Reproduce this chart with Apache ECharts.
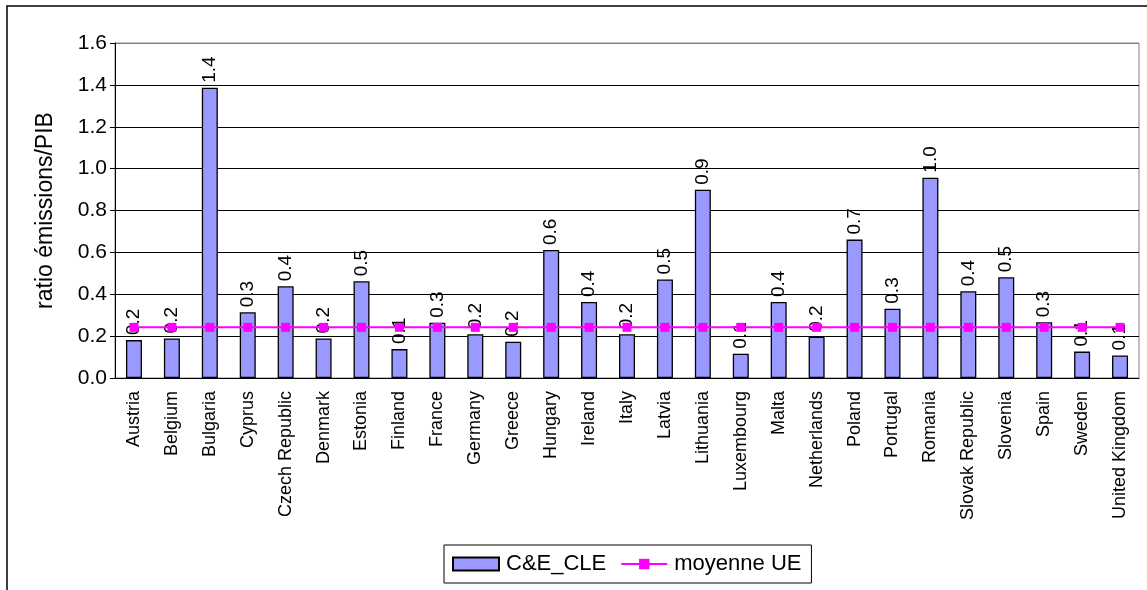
<!DOCTYPE html>
<html>
<head>
<meta charset="utf-8">
<script src="https://cdn.jsdelivr.net/npm/echarts@6/dist/echarts.min.js"></script>
<style>
  html, body { margin: 0; padding: 0; background: #fff; }
  #chart { width: 1147px; height: 590px; }
</style>
</head>
<body>
<div id="chart"></div>
<script>
// pays (axe x)
var countries = ['Austria', 'Belgium', 'Bulgaria', 'Cyprus', 'Czech Republic', 'Denmark',
    'Estonia', 'Finland', 'France', 'Germany', 'Greece', 'Hungary', 'Ireland', 'Italy',
    'Latvia', 'Lithuania', 'Luxembourg', 'Malta', 'Netherlands', 'Poland', 'Portugal',
    'Romania', 'Slovak Republic', 'Slovenia', 'Spain', 'Sweden', 'United Kingdom'];

// ratio émissions/PIB par pays
var cleValues = [0.181, 0.189, 1.386, 0.314, 0.438, 0.189, 0.462, 0.138, 0.264, 0.209,
    0.173, 0.611, 0.363, 0.209, 0.471, 0.899, 0.116, 0.363, 0.197, 0.661, 0.331,
    0.957, 0.414, 0.481, 0.266, 0.126, 0.108];

// moyenne UE (constante)
var avgValue = 0.242;
var avgValues = countries.map(function () { return avgValue; });

var yTicks = { min: 0, max: 1.6, interval: 0.2 };

var font = 'Liberation Sans, Arial, sans-serif';
var chart = echarts.init(document.getElementById('chart'));

var option = {
    animation: false,
    backgroundColor: '#fff',
    textStyle: { fontFamily: font },
    graphic: [{
        type: 'rect',
        shape: { x: 7, y: 6, width: 1180, height: 640 },
        style: { fill: 'none', stroke: '#000', lineWidth: 1.5 },
        silent: true
    }],
    grid: {
        left: 115, right: 8, top: 43, bottom: 212,
        show: true, borderColor: '#808080', borderWidth: 1,
        backgroundColor: '#fff'
    },
    legend: {
        left: 444, top: 545,
        padding: [8, 10, 8, 8],
        itemGap: 14,
        itemWidth: 46, itemHeight: 13,
        borderColor: '#000', borderWidth: 1,
        textStyle: { fontSize: 22, color: '#000', fontFamily: font, padding: [0, 0, 0, 2] },
        data: [{ name: 'C&E_CLE', icon: 'rect' }, { name: 'moyenne UE' }]
    },
    xAxis: {
        type: 'category',
        data: countries,
        axisLine: { lineStyle: { color: '#000', width: 1 } },
        axisTick: { length: 5, lineStyle: { color: '#000' } },
        axisLabel: { rotate: 90, fontSize: 18, color: '#000', margin: 13, interval: 0 }
    },
    yAxis: {
        type: 'value',
        min: yTicks.min, max: yTicks.max, interval: yTicks.interval,
        name: 'ratio émissions/PIB',
        nameLocation: 'middle',
        nameGap: 58,
        nameTextStyle: { fontSize: 23, color: '#000' },
        axisLine: { show: true, lineStyle: { color: '#000', width: 1 } },
        axisTick: { show: true, length: 5, lineStyle: { color: '#000' } },
        axisLabel: {
            fontSize: 21, color: '#000', margin: 8,
            formatter: function (v) { return v.toFixed(1); }
        },
        splitLine: {
            show: true,
            lineStyle: { color: ['#000', '#000', '#000', '#000', '#000', '#000', '#000', '#000', '#808080'], width: 1 }
        }
    },
    series: [{
        name: 'C&E_CLE',
        type: 'bar',
        data: cleValues,
        barWidth: 16,
        z: 2,
        itemStyle: { color: '#9999FF', borderColor: '#000', borderWidth: 1.3 },
        label: {
            show: true,
            position: 'top',
            rotate: 90,
            align: 'left',
            verticalAlign: 'middle',
            distance: 5,
            fontSize: 19,
            color: '#000',
            formatter: function (p) { return p.value.toFixed(1); }
        }
    }, {
        name: 'moyenne UE',
        type: 'line',
        data: avgValues,
        z: 5,
        symbol: 'rect',
        symbolSize: 9,
        lineStyle: { color: '#FF00FF', width: 2 },
        itemStyle: { color: '#FF00FF' }
    }]
};

chart.setOption(option);
</script>
</body>
</html>
